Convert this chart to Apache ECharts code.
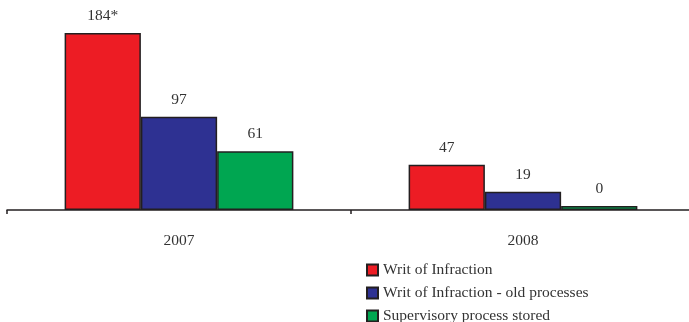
<!DOCTYPE html>
<html>
<head>
<meta charset="utf-8">
<script src="https://cdn.jsdelivr.net/npm/echarts@6/dist/echarts.min.js"></script>
<style>
  html, body { margin: 0; padding: 0; background: #fff; overflow: hidden; }
  #chart { width: 698px; height: 340px; }
</style>
</head>
<body>
<div id="chart"></div>
<script>
// Categories and series values
const years = ['2007', '2008'];
const seriesNames = ['Writ of Infraction', 'Writ of Infraction - old processes', 'Supervisory process stored'];
const writValues = [184, 47];
const oldProcessValues = [97, 19];
const storedValues = [61, 0];
const writLabels = ['184*', '47'];
const oldProcessLabels = ['97', '19'];
const storedLabels = ['61', '0'];
const seriesColors = ['#ED1C24', '#2E3192', '#00A651'];

const serif = '"Liberation Serif", "DejaVu Serif", serif';

function makeSeries(i, values, labels) {
  return {
    name: seriesNames[i],
    type: 'bar',
    data: values,
    barGap: '0%',
    barCategoryGap: '33.5%',
    barMinHeight: 4,
    itemStyle: { color: seriesColors[i], borderColor: '#231F20', borderWidth: 1.5 },
    label: {
      show: true,
      position: 'top',
      distance: 9,
      color: '#333',
      fontFamily: serif,
      fontSize: 15.5,
      formatter: p => labels[p.dataIndex]
    }
  };
}

const chart = echarts.init(document.getElementById('chart'));
chart.setOption({
  animation: false,
  backgroundColor: '#fff',
  grid: { left: 7, right: 3, top: 33, height: 177, containLabel: false },
  xAxis: {
    type: 'category',
    data: years,
    axisLine: { lineStyle: { color: '#231F20', width: 1.5 } },
    axisTick: { show: true, length: 4, inside: false, lineStyle: { color: '#231F20', width: 1.5 } },
    axisLabel: { margin: 23, color: '#333', fontFamily: serif, fontSize: 15.5 }
  },
  yAxis: {
    type: 'value',
    min: 0,
    max: 184,
    show: false,
    splitLine: { show: false }
  },
  legend: {
    orient: 'vertical',
    left: 366,
    top: 262,
    padding: 0,
    itemWidth: 11,
    itemHeight: 11,
    itemGap: 7,
    icon: 'rect',
    textStyle: { color: '#333', fontFamily: serif, fontSize: 15.5 },
    data: seriesNames
  },
  series: [
    makeSeries(0, writValues, writLabels),
    makeSeries(1, oldProcessValues, oldProcessLabels),
    makeSeries(2, storedValues, storedLabels)
  ]
});
</script>
</body>
</html>
